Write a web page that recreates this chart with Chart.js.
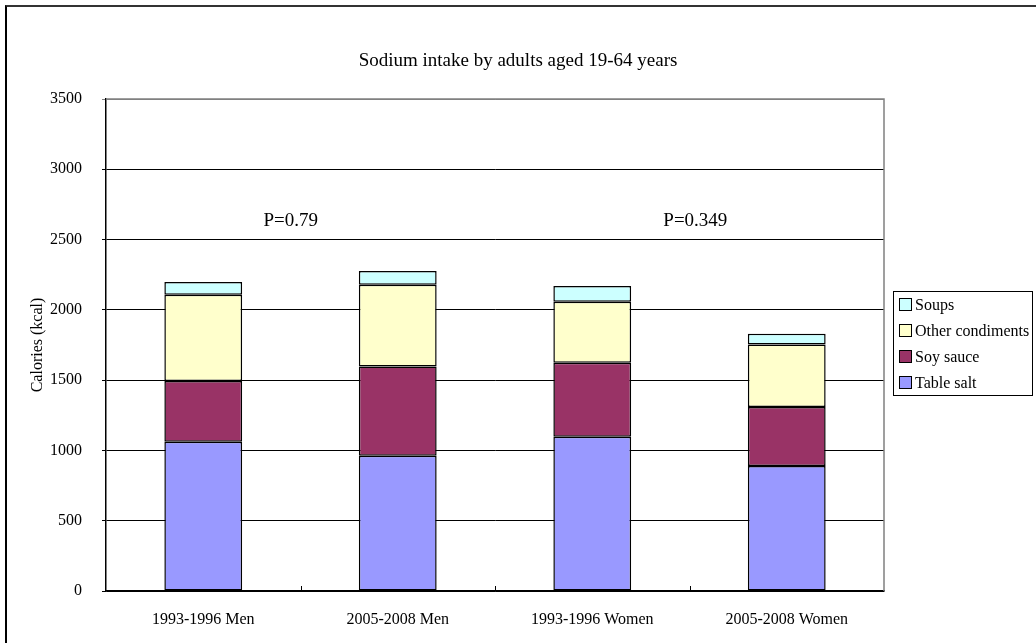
<!DOCTYPE html>
<html>
<head>
<meta charset="utf-8">
<script src="https://cdn.jsdelivr.net/npm/chart.js@4.4.1/dist/chart.umd.min.js"></script>
<style>
  html, body { margin: 0; padding: 0; background: #fff; }
  #wrap { position: relative; width: 1036px; height: 643px; overflow: hidden; }
  #frame {
    position: absolute; left: 5px; top: 5px; width: 1100px; height: 700px;
    border-left: 2px solid #000; border-top: 2px solid #333; box-sizing: border-box;
  }
  canvas { position: absolute; left: 0; top: 0; }
</style>
</head>
<body>
<div id="wrap">
  <div id="frame"></div>
  <canvas id="chart" width="1036" height="643"></canvas>
</div>
<script>
const categories = ["1993-1996 Men", "2005-2008 Men", "1993-1996 Women", "2005-2008 Women"];
const tableSalt = [1062, 962, 1097, 889];
const soySauce = [432, 635, 526, 420];
const otherCondiments = [613, 581, 434, 445];
const soups = [92, 99, 113, 76];
const yTicks = [0, 500, 1000, 1500, 2000, 2500, 3000, 3500];
const pLabels = ["P=0.79", "P=0.349"];
const pLabelX = [0.45, 2.53];
const pLabelY = [2630, 2630];
const chartTitle = "Sodium intake by adults aged 19-64 years";

const FONT = "'Liberation Serif', 'Times New Roman', serif";

// legend with a box, Soups on top
const boxLegend = {
  id: "boxLegend",
  afterDraw(chart) {
    const ctx = chart.ctx;
    const x0 = 893, y0 = 291, w = 139, h = 104;
    ctx.save();
    ctx.strokeStyle = "#000";
    ctx.lineWidth = 1;
    ctx.strokeRect(x0 + 0.5, y0 + 0.5, w, h);
    const sets = chart.data.datasets.slice().reverse();
    ctx.font = "16px " + FONT;
    ctx.textBaseline = "middle";
    sets.forEach((ds, i) => {
      const cy = y0 + 14 + i * 26;
      ctx.fillStyle = ds.backgroundColor;
      ctx.fillRect(x0 + 6.5, cy - 6.5, 12, 12);
      ctx.strokeRect(x0 + 6.5, cy - 6.5, 12, 12);
      ctx.fillStyle = "#000";
      ctx.fillText(ds.label, x0 + 22, cy + 1);
    });
    ctx.restore();
  }
};

// title, plot frame, inward category ticks and P-value notes
const extras = {
  id: "extras",
  afterDraw(chart) {
    const ctx = chart.ctx;
    const a = chart.chartArea;
    const xs = chart.scales.x, ys = chart.scales.y;
    ctx.save();
    ctx.strokeStyle = "#808080";
    ctx.lineWidth = 1.5;
    ctx.beginPath();
    ctx.moveTo(a.left, a.top);
    ctx.lineTo(a.right, a.top);
    ctx.lineTo(a.right, a.bottom);
    ctx.stroke();
    ctx.strokeStyle = "#000";
    ctx.lineWidth = 1;
    ctx.beginPath();
    for (let i = 1; i < categories.length; i++) {
      const x = Math.round((xs.getPixelForValue(i - 1) + xs.getPixelForValue(i)) / 2) + 0.5;
      ctx.moveTo(x, a.bottom);
      ctx.lineTo(x, a.bottom - 5);
    }
    ctx.stroke();
    ctx.fillStyle = "#000";
    ctx.textAlign = "center";
    ctx.textBaseline = "middle";
    ctx.font = "19px " + FONT;
    ctx.fillText(chartTitle, chart.width / 2, 61);
    pLabels.forEach((t, i) => {
      const x = xs.getPixelForValue(0) + pLabelX[i] * (xs.getPixelForValue(1) - xs.getPixelForValue(0));
      ctx.fillText(t, x, ys.getPixelForValue(pLabelY[i]));
    });
    ctx.restore();
  }
};

const seg = (label, data, color) => ({
  label: label,
  data: data,
  backgroundColor: color,
  borderColor: "#000",
  borderWidth: 1.5,
  borderSkipped: false,
  barPercentage: 0.4,
  categoryPercentage: 1.0
});

new Chart(document.getElementById("chart"), {
  type: "bar",
  data: {
    labels: categories,
    datasets: [
      seg("Table salt", tableSalt, "#9999FF"),
      seg("Soy sauce", soySauce, "#993366"),
      seg("Other condiments", otherCondiments, "#FFFFCC"),
      seg("Soups", soups, "#CCFFFF")
    ]
  },
  options: {
    responsive: false,
    animation: false,
    layout: { padding: { left: 6, right: 152, top: 99, bottom: 0 } },
    plugins: {
      legend: { display: false },
      tooltip: { enabled: false },
      title: { display: false }
    },
    scales: {
      x: {
        stacked: true,
        grid: { display: false, drawTicks: false },
        border: { color: "#000", width: 1.5 },
        ticks: { color: "#000", font: { family: FONT, size: 16 }, padding: 19, maxRotation: 0 },
        afterFit(s) { s.height = 52; }
      },
      y: {
        stacked: true,
        min: 0,
        max: 3500,
        afterBuildTicks(s) { s.ticks = yTicks.map(v => ({ value: v })); },
        grid: {
          color: ctx => (ctx.tick && ctx.tick.value === 3500 ? "#808080" : "#000"),
          lineWidth: 1,
          tickLength: 4
        },
        border: { color: "#000", width: 1.5 },
        ticks: {
          color: "#000",
          font: { family: FONT, size: 16 },
          padding: 20,
          callback: v => String(v)
        },
        title: {
          display: true,
          text: "Calories (kcal)",
          color: "#000",
          font: { family: FONT, size: 16 },
          padding: { top: 22, bottom: 0 }
        },
        afterFit(s) { s.width = 100; }
      }
    }
  },
  plugins: [extras, boxLegend]
});
</script>
</body>
</html>
